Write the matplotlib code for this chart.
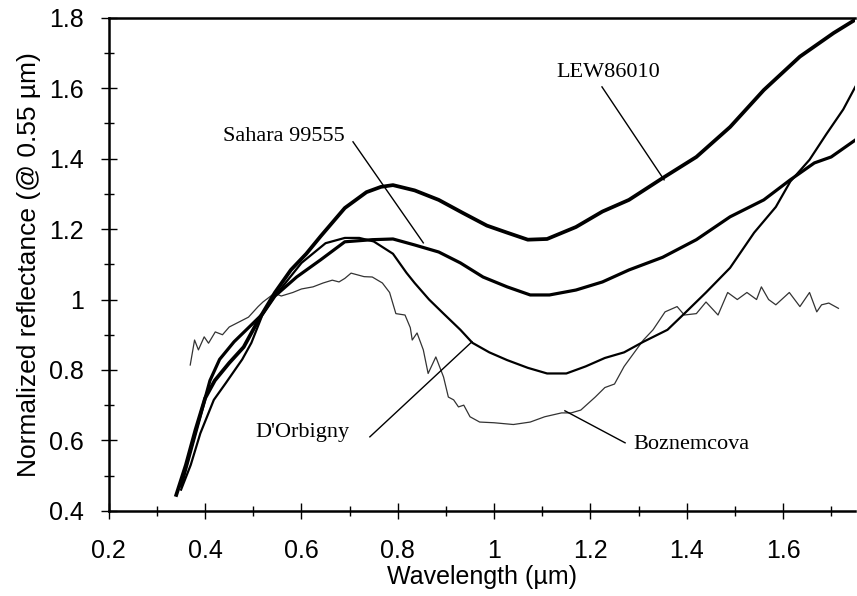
import matplotlib
matplotlib.use("Agg")
from matplotlib import pyplot as plt
from matplotlib.ticker import MultipleLocator, FuncFormatter

# spectra (wavelength in um, normalized reflectance)
lew_x = [0.34, 0.36, 0.38, 0.40, 0.42, 0.45, 0.48, 0.51, 0.545, 0.578, 0.61,
         0.64, 0.69, 0.735, 0.765, 0.79, 0.835, 0.885, 0.935, 0.985, 1.027,
         1.07, 1.11, 1.17, 1.225, 1.28, 1.35, 1.42, 1.49, 1.56, 1.635, 1.705,
         1.75]
lew_y = [0.445, 0.53, 0.63, 0.72, 0.77, 0.82, 0.865, 0.94, 1.02, 1.084, 1.13,
         1.18, 1.26, 1.305, 1.32, 1.325, 1.31, 1.283, 1.246, 1.21, 1.19,
         1.17, 1.172, 1.206, 1.25, 1.283, 1.345, 1.405, 1.49, 1.595, 1.69,
         1.757, 1.795]

sah_x = [0.35, 0.37, 0.39, 0.41, 0.43, 0.46, 0.49, 0.52, 0.545, 0.59, 0.64,
         0.69, 0.747, 0.79, 0.835, 0.885, 0.93, 0.977, 1.027, 1.075, 1.115,
         1.17, 1.225, 1.28, 1.35, 1.42, 1.49, 1.56, 1.615, 1.665, 1.7, 1.75]
sah_y = [0.47, 0.57, 0.67, 0.77, 0.83, 0.88, 0.92, 0.96, 1.01, 1.064, 1.113,
         1.164, 1.17, 1.172, 1.155, 1.135, 1.104, 1.064, 1.036, 1.013, 1.013,
         1.027, 1.05, 1.084, 1.12, 1.17, 1.235, 1.283, 1.34, 1.388, 1.405,
         1.453]

dor_x = [0.35, 0.37, 0.39, 0.418, 0.443, 0.477, 0.496, 0.52, 0.545, 0.6,
         0.65, 0.69, 0.72, 0.75, 0.79, 0.818, 0.835, 0.865, 0.895, 0.93,
         0.955, 0.99, 1.027, 1.07, 1.11, 1.15, 1.19, 1.23, 1.27, 1.31, 1.36,
         1.395, 1.44, 1.49, 1.54, 1.585, 1.615, 1.655, 1.69, 1.725, 1.75]
dor_y = [0.46, 0.53, 0.62, 0.715, 0.763, 0.83, 0.877, 0.96, 1.01, 1.104,
         1.16, 1.175, 1.175, 1.165, 1.13, 1.076, 1.047, 1.0, 0.96, 0.914,
         0.877, 0.85, 0.828, 0.806, 0.79, 0.79, 0.81, 0.834, 0.85, 0.88,
         0.914, 0.96, 1.02, 1.09, 1.19, 1.263, 1.335, 1.397, 1.47, 1.54,
         1.604]

boz_x = [0.369, 0.378, 0.386, 0.398, 0.407, 0.421, 0.436, 0.45, 0.47, 0.49,
         0.51, 0.52, 0.544, 0.558, 0.582, 0.6, 0.624, 0.645, 0.664, 0.678,
         0.69, 0.703, 0.73, 0.747, 0.768, 0.783, 0.796, 0.815, 0.826, 0.83,
         0.84, 0.853, 0.863, 0.879, 0.895, 0.905, 0.916, 0.926, 0.937, 0.95,
         0.97, 1.0, 1.04, 1.075, 1.105, 1.14, 1.16, 1.18, 1.21, 1.23, 1.25,
         1.27, 1.31, 1.33, 1.355, 1.38, 1.395, 1.42, 1.44, 1.465, 1.485,
         1.505, 1.525, 1.545, 1.555, 1.57, 1.585, 1.613, 1.635, 1.655, 1.67,
         1.68, 1.695, 1.715]
boz_y = [0.814, 0.885, 0.857, 0.894, 0.876, 0.908, 0.9, 0.922, 0.936, 0.95,
         0.98, 0.993, 1.018, 1.01, 1.02, 1.03, 1.036, 1.047, 1.055, 1.05,
         1.06, 1.075, 1.065, 1.064, 1.047, 1.02, 0.96, 0.956, 0.92, 0.885,
         0.905, 0.857, 0.79, 0.837, 0.78, 0.723, 0.715, 0.695, 0.70, 0.667,
         0.652, 0.65, 0.645, 0.652, 0.667, 0.678, 0.678, 0.686, 0.723, 0.75,
         0.76, 0.81, 0.885, 0.914, 0.965, 0.98, 0.956, 0.96, 0.993, 0.956,
         1.02, 1.0, 1.02, 1.0, 1.036, 1.0, 0.985, 1.02, 0.98, 1.02, 0.965,
         0.985, 0.99, 0.975]

# label text, text position, point on the curve
names = ["LEW86010", "Sahara 99555", "D'Orbigny", "Boznemcova"]
text_xy = [(1.236, 1.644), (0.563, 1.462), (0.602, 0.621), (1.409, 0.587)]
line_from = [(1.224, 1.604), (0.707, 1.448), (0.742, 0.610), (1.272, 0.593)]
line_to = [(1.353, 1.340), (0.853, 1.161), (0.954, 0.880), (1.147, 0.684)]

fig = plt.figure(figsize=(8.57, 5.96), dpi=100)
ax = fig.add_axes([0.127, 0.143, 0.871, 0.827])

ax.plot(boz_x, boz_y, color='#333333', lw=0.9)
ax.plot(dor_x, dor_y, color='black', lw=1.6)
ax.plot(sah_x, sah_y, color='black', lw=2.3)
ax.plot(lew_x, lew_y, color='black', lw=2.7)

for i in range(len(names)):
    ax.plot([line_from[i][0], line_to[i][0]],
            [line_from[i][1], line_to[i][1]], color='black', lw=1.0)
    ax.text(text_xy[i][0], text_xy[i][1], names[i], ha='center',
            va='center', fontsize=16, family='Liberation Serif')

ax.set_xlim(0.2, 1.75)
ax.set_ylim(0.4, 1.8)
ax.xaxis.set_major_locator(MultipleLocator(0.2))
ax.xaxis.set_minor_locator(MultipleLocator(0.1))
ax.yaxis.set_major_locator(MultipleLocator(0.2))
ax.yaxis.set_minor_locator(MultipleLocator(0.1))
fmt = FuncFormatter(lambda v, p: f"{v:.1f}".rstrip('0').rstrip('.'))
ax.xaxis.set_major_formatter(fmt)
ax.yaxis.set_major_formatter(fmt)

ax.tick_params(which='major', direction='inout', length=12, width=1.0,
               labelsize=18)
ax.tick_params(which='minor', direction='inout', length=7, width=1.0)
ax.tick_params(axis='x', which='major', pad=14)
ax.tick_params(axis='y', which='major', pad=12)
for lab in ax.get_xticklabels() + ax.get_yticklabels():
    lab.set_family('Liberation Sans')

for s in ['left', 'bottom', 'top']:
    ax.spines[s].set_linewidth(1.8)
ax.spines['right'].set_visible(False)

ax.set_xlabel("Wavelength (\u00b5m)", fontsize=18, family='Liberation Sans',
              labelpad=2)
ax.set_ylabel("Normalized reflectance (@ 0.55 \u00b5m)", fontsize=19,
              family='Liberation Sans', labelpad=6)

fig.savefig("out.png", dpi=100)
